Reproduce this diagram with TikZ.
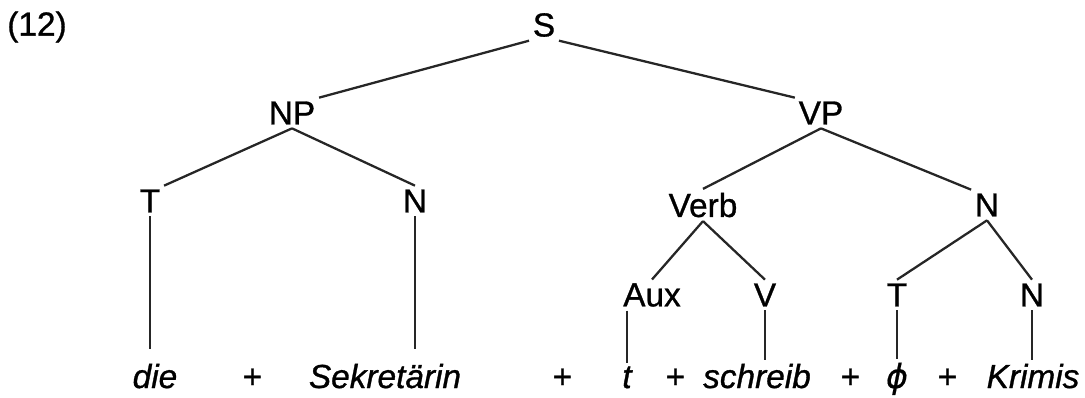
\documentclass[tikz,border=0pt]{standalone}
\usepackage{fontspec}
\setmainfont{Liberation Sans}[FakeBold=0.9]
\newfontfamily\greek{DejaVu Sans}[FakeBold=0.5]
\usetikzlibrary{positioning}
\tikzset{
  cat/.style    = {inner sep=2pt, font=\fontsize{19}{22}\selectfont},
  word/.style   = {inner sep=2pt, anchor=base, font=\fontsize{19}{22}\selectfont\itshape},
  branch/.style = {line width=1.3pt, draw=black!85},
}

\begin{document}
\begin{tikzpicture}[x=0.02cm, y=-0.02cm]
  \useasboundingbox (0,0) rectangle (1085,397);
  \node[cat] (ex) at (37,27) {(12)};
  % categories
  \node[cat] (S)    at (544,25)  {S};
  \node[cat] (NP)   at (292,113) {NP};
  \node[cat] (VP)   at (821,113) {VP};
  \node[cat] (T1)   at (150,201) {T};
  \node[cat] (N1)   at (415,201) {N};
  \node[cat] (Verb) at (703,205) {Verb};
  \node[cat] (N2)   at (987,205) {N};
  \node[cat] (Aux)  at (652,295) {Aux};
  \node[cat] (V)    at (765,295) {V};
  \node[cat] (T2)   at (897,295) {T};
  \node[cat] (N3)   at (1032,295) {N};
  % terminal string
  \node[word] (die)     at (155,388)  {die};
  \node[word] (p1)      at (252,388)  {+};
  \node[word] (sekr)    at (385,388)  {Sekretärin};
  \node[word] (p2)      at (562,388)  {+};
  \node[word] (t)       at (627,388)  {t};
  \node[word] (p3)      at (675,388)  {+};
  \node[word] (schreib) at (757,388)  {schreib};
  \node[word] (p4)      at (850,388)  {+};
  \node[word] (phi)     at (897,388)  {\greek\itshape ϕ};
  \node[word] (p5)      at (947,388)  {+};
  \node[word] (krimis)  at (1033,388) {Krimis};
  % branches
  \draw[branch] (S.south west) -- (NP.north east);
  \draw[branch] (S.south east) -- (VP.north west);
  \draw[branch] (NP.south) -- (T1.north east);
  \draw[branch] (NP.south) -- (N1.north);
  \draw[branch] (VP.south) -- (Verb.north);
  \draw[branch] (VP.south) -- (N2.north west);
  \draw[branch] (Verb.south) -- (Aux.north);
  \draw[branch] (Verb.south) -- (V.north);
  \draw[branch] (N2.south) -- (T2.north);
  \draw[branch] (N2.south) -- (N3.north);
  \draw[branch, shorten >=6pt] (T1.south) -- (T1.south |- die.north);
  \draw[branch, shorten >=6pt] (N1.south) -- (N1.south |- sekr.north);
  \draw[branch] (Aux.south -| t.north) -- (t.north);
  \draw[branch] (V.south) -- (V.south |- schreib.north);
  \draw[branch] (T2.south) -- (T2.south |- phi.north);
  \draw[branch] (N3.south) -- (N3.south |- krimis.north);
\end{tikzpicture}
\end{document}
